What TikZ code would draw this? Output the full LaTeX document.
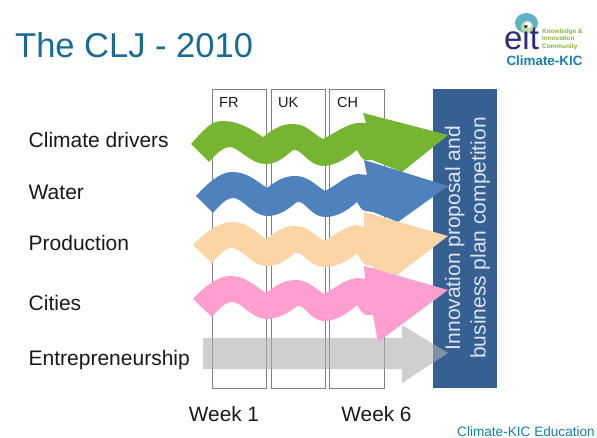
\documentclass[tikz,border=0pt]{standalone}
\usepackage{fontspec}
\setmainfont{Liberation Sans}
\definecolor{titleblue}{HTML}{1B6A94}
\definecolor{panelblue}{HTML}{376092}
\definecolor{fgreen}{HTML}{76B531}
\definecolor{fblue}{HTML}{4F81BD}
\definecolor{fpeach}{HTML}{FBD5A5}
\definecolor{fpink}{HTML}{FF9FCF}
\definecolor{fgray}{HTML}{B0B0B0}
\definecolor{boxline}{HTML}{7F7F7F}
\definecolor{eitnavy}{HTML}{2E2A78}
\definecolor{eitteal}{HTML}{5FB3C8}
\definecolor{eitgreen}{HTML}{8DB33A}
\definecolor{kicteal}{HTML}{1A7FA8}
\definecolor{paneltextc}{HTML}{DCE3EC}
\tikzset{
  weekbox/.style={draw=boxline,line width=0.7pt,fill=white},
  rowlabel/.style={anchor=base west,inner sep=0pt,font=\fontsize{21}{24}\selectfont,text=black!90},
  boxlabel/.style={anchor=base west,inner sep=0pt,font=\fontsize{14.5}{17}\selectfont,text=black!90},
  weeklabel/.style={anchor=base,inner sep=0pt,font=\fontsize{20.8}{24}\selectfont,text=black!90},
  paneltext/.style={anchor=base,rotate=90,inner sep=0pt,text=paneltextc,font=\fontsize{21}{26}\selectfont}
}
\begin{document}
\begin{tikzpicture}[x=1pt,y=-1pt]
\useasboundingbox (0,0) rectangle (597,438);
\clip (0,0) rectangle (597,438);
\fill[white] (0,0) rectangle (597,438);
% title
\node[anchor=west,inner sep=0pt,text=titleblue,font=\fontsize{34.5}{40}\selectfont] (title) at (15,45) {The CLJ - 2010};
% logo
\fill[eitteal] (526.5,23) ellipse (11.5 and 10);
\fill[white!50!eitgreen] (527,27) circle (6);
\fill[white] (528,25) circle (3.5);
\node[inner sep=0pt,text=eitnavy,font=\fontsize{33}{33}\selectfont] (eit) at (521.5,38) {eit};
\node[anchor=west,align=left,inner sep=0pt,text=eitgreen,font=\bfseries\fontsize{6.4}{7.4}\selectfont] (kic1) at (542,39) {Knowledge \&\\Innovation\\Community};
\node[inner sep=0pt,text=kicteal,font=\bfseries\fontsize{13.4}{15}\selectfont] (kic2) at (544.5,61) {Climate-KIC};
% week boxes
\draw[weekbox] (212,89) rectangle (266,388);
\draw[weekbox] (271,89) rectangle (325,388);
\draw[weekbox] (329.5,89) rectangle (384,388);
\node[boxlabel] (fr) at (219,108) {FR};
\node[boxlabel] (uk) at (278,108) {UK};
\node[boxlabel] (ch) at (337,108) {CH};
% panel
\fill[panelblue] (433,89) rectangle (497,388);
% green
\fill[fgreen] (191,144) .. controls +(12,-13) and +(-12,0) .. (222,121)
 .. controls +(17,0) and +(-12,-8) .. (263,137)
 .. controls +(8,-6) and +(-12,0) .. (292,124)
 .. controls +(14,0) and +(-14,-8) .. (323,139)
 .. controls +(12,-6) and +(-12,2) .. (357,123)
 -- (366,123) -- (363,113) -- (448,135) -- (402,172) -- (372,160) -- (365,160)
 .. controls +(-4,-1) and +(2,3) .. (357,150)
 .. controls +(-10,8) and +(12,0) .. (323,166)
 .. controls +(-14,0) and +(8,-2) .. (293,150)
 .. controls +(-10,8) and +(12,0) .. (265,164)
 .. controls +(-14,0) and +(8,0) .. (230,147)
 .. controls +(-7,0) and +(6,-7) .. (209,162) -- cycle;
% blue
\fill[fblue] (196,196) .. controls +(12,-13) and +(-12,0) .. (232,172)
 .. controls +(15,0) and +(-12,-8) .. (267,188)
 .. controls +(8,-6) and +(-12,0) .. (295,176)
 .. controls +(12,0) and +(-12,-8) .. (325,191)
 .. controls +(12,-6) and +(-12,2) .. (357,174)
 -- (367,175) -- (364,160) -- (448,186) -- (398,222) -- (373,212) -- (365,211)
 .. controls +(-4,-1) and +(2,3) .. (357,202)
 .. controls +(-10,9) and +(12,0) .. (325,217)
 .. controls +(-14,0) and +(8,-2) .. (297,202)
 .. controls +(-10,8) and +(12,0) .. (267,216)
 .. controls +(-14,0) and +(10,0) .. (233,198)
 .. controls +(-7,0) and +(6,-7) .. (213,213) -- cycle;
% peach
\fill[fpeach] (193,245) .. controls +(12,-13) and +(-12,0) .. (232,222)
 .. controls +(15,0) and +(-12,-8) .. (266,239)
 .. controls +(8,-6) and +(-12,0) .. (295,226)
 .. controls +(12,0) and +(-12,-8) .. (324,241)
 .. controls +(12,-6) and +(-12,1) .. (357,225)
 -- (364,227) -- (364,212) -- (448,236) -- (397,275) -- (373,272) -- (373,266) -- (366,265)
 .. controls +(-4,-1) and +(2,3) .. (357,253)
 .. controls +(-10,9) and +(12,0) .. (324,267)
 .. controls +(-14,0) and +(8,-2) .. (295,253)
 .. controls +(-10,8) and +(12,0) .. (266,266)
 .. controls +(-14,0) and +(10,0) .. (232,248)
 .. controls +(-7,0) and +(6,-7) .. (212,263) -- cycle;
% gray
\fill[fgray,fill opacity=0.6] (203,338) -- (402,338) -- (402,325) -- (448,353) -- (402,383) -- (402,369) -- (203,369) -- cycle;
% pink
\fill[fpink] (193,299) .. controls +(12,-13) and +(-12,0) .. (230,276)
 .. controls +(15,0) and +(-12,-8) .. (266,293)
 .. controls +(8,-6) and +(-12,0) .. (295,280)
 .. controls +(12,0) and +(-12,-8) .. (324,294)
 .. controls +(12,-6) and +(-12,1) .. (357,278)
 -- (365,279) -- (364,266) -- (448,290) -- (378,342) -- (373,315) -- (366,315)
 .. controls +(-4,-1) and +(2,3) .. (357,305)
 .. controls +(-10,9) and +(12,0) .. (324,321)
 .. controls +(-14,0) and +(8,-2) .. (297,306)
 .. controls +(-10,8) and +(12,0) .. (266,319)
 .. controls +(-14,0) and +(10,0) .. (232,302)
 .. controls +(-7,0) and +(6,-7) .. (212,317) -- cycle;
% panel text
\node[paneltext] (panel1) at (460,238) {Innovation proposal and};
\node[paneltext] (panel2) at (485.7,238) {business plan competition};
% row labels
\node[rowlabel] (r1) at (28.5,148) {Climate drivers};
\node[rowlabel] (r2) at (28.5,200) {Water};
\node[rowlabel] (r3) at (28.5,251) {Production};
\node[rowlabel] (r4) at (28.5,311) {Cities};
\node[rowlabel] (r5) at (28.5,365.5) {Entrepreneurship};
\node[weeklabel] (w1) at (224,421) {Week 1};
\node[weeklabel] (w6) at (376.5,421) {Week 6};
\node[anchor=base west,inner sep=0pt,text=kicteal,font=\fontsize{13.6}{15}\selectfont] (foot) at (457,436.5) {Climate-KIC Education};
\end{tikzpicture}
\end{document}
